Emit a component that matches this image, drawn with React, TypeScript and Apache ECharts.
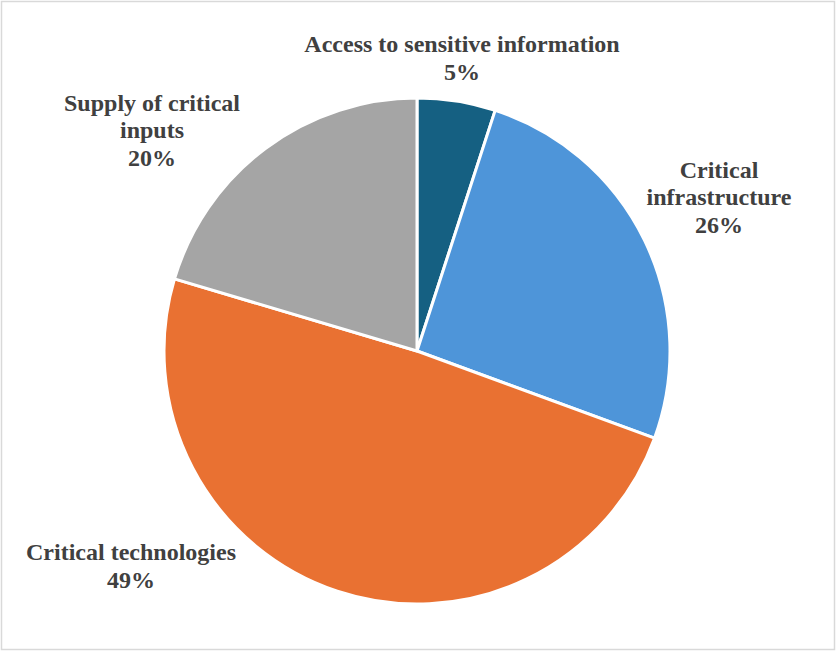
import React, { useEffect, useRef } from "react";
import * as echarts from "echarts";

const categories = [
  "Access to sensitive information",
  "Critical infrastructure",
  "Critical technologies",
  "Supply of critical inputs",
];
const displayLabels = [
  "Access to sensitive information",
  "Critical\ninfrastructure",
  "Critical technologies",
  "Supply of critical\ninputs",
];
const values = [5.0, 25.6, 49.0, 20.4];
const colors = ["#156082", "#4E95D9", "#E97132", "#A5A5A5"];

const labelPos = [
  { x: 462, y: 58 },
  { x: 719, y: 197 },
  { x: 131, y: 566 },
  { x: 152, y: 130 },
];

export default function App() {
  const ref = useRef<HTMLDivElement>(null);
  useEffect(() => {
    if (!ref.current) return;
    const chart = echarts.init(ref.current, null, { renderer: "svg" });
    chart.setOption({
      animation: false,
      backgroundColor: "#FFFFFF",
      graphic: [
        {
          type: "rect",
          shape: { x: 1.5, y: 1.5, width: 833, height: 648 },
          style: { fill: "none", stroke: "#D9D9D9", lineWidth: 1.5 },
          silent: true,
        },
      ],
      series: [
        {
          type: "pie",
          center: [417, 351],
          radius: 253,
          startAngle: 90,
          clockwise: true,
          data: categories.map((c, i) => ({
            name: c,
            value: values[i],
            itemStyle: { color: colors[i] },
          })),
          itemStyle: { borderColor: "#FFFFFF", borderWidth: 3 },
          label: {
            show: true,
            position: "outside",
            overflow: "none",
            bleedMargin: 0,
            formatter: (p: any) =>
              `${displayLabels[p.dataIndex]}\n${Math.round(p.percent)}%`,
            fontFamily: "Liberation Serif",
            fontWeight: "bold",
            fontSize: 24,
            lineHeight: 27.5,
            color: "#404040",
            align: "center",
          },
          labelLine: { show: false },
          labelLayout: (params: any) => ({
            x: labelPos[params.dataIndex].x,
            y: labelPos[params.dataIndex].y,
            align: "center",
            verticalAlign: "middle",
          }),
        },
      ],
    });
    return () => chart.dispose();
  }, []);
  return (
    <div
      ref={ref}
      style={{ position: "fixed", left: 0, top: 0, width: 837, height: 652 }}
    />
  );
}
